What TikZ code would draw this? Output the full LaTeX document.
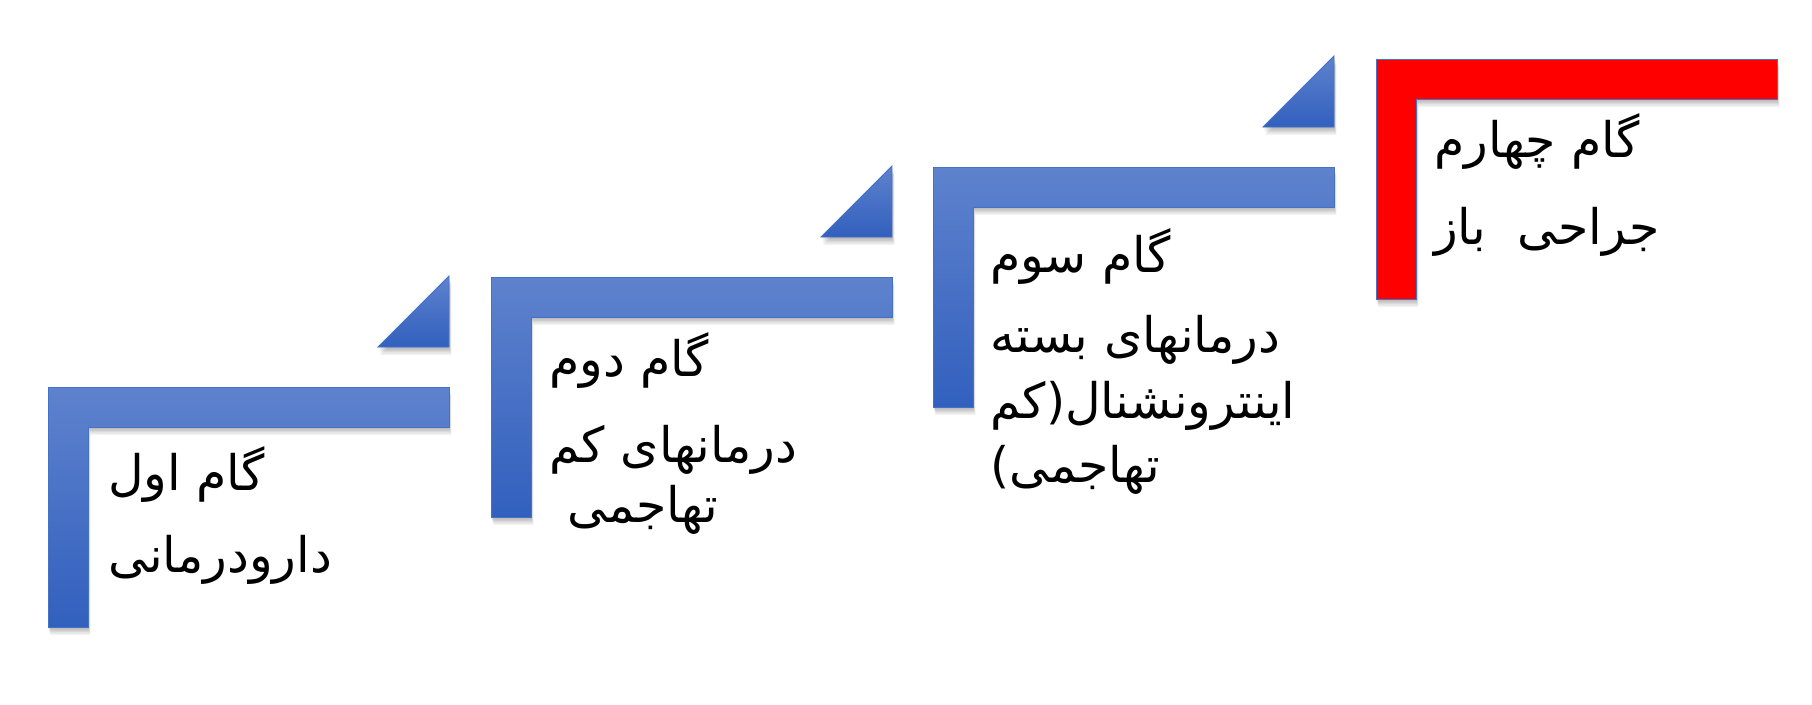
\documentclass[tikz,border=0pt]{standalone}
\usepackage{fontspec}
\usepackage{tikz}
\usetikzlibrary{calc}
\newfontfamily\arabicfont[Script=Arabic]{DejaVu Sans}
\TeXXeTstate=1
\definecolor{steplight}{RGB}{94,130,205}
\definecolor{stepdark}{RGB}{50,96,190}
\definecolor{stepedge}{RGB}{68,114,196}
\definecolor{stepred}{RGB}{255,0,0}
\newcommand{\stepwidth}{401}
\newcommand{\makeshadow}[1]{
	\foreach \d in {1,...,6}
		\fill[black, opacity=0.05] ($(#1)+(0.4*\d,1.3*\d)$) -- ++(\stepwidth,0) -- ++(0,40) -- ++(40-\stepwidth,0) -- ++(0,200) -- ++(-40,0) -- cycle;
}
\newcommand{\makestep}[2]{
	\begin{scope}
	\makeshadow{#1}
	\path[#2] (#1) -- ++(\stepwidth,0) -- ++(0,40) -- ++(40-\stepwidth,0) -- ++(0,200) -- ++(-40,0) -- cycle;
	\end{scope}
}
\newcommand{\maketriangle}[1]{
	\begin{scope}
	\foreach \d in {1,...,6}
		\fill[black, opacity=0.05] ($(#1)+(\stepwidth+0.4*\d,-40+1.3*\d)$) -- ++(-71,0) -- ++(71,-71) -- cycle;
	\path[bluestep] ($(#1)+(\stepwidth,-40)$) -- ++(-71,0) -- ++(71,-71) -- cycle;
	\end{scope}
}
\tikzset{
	bluestep/.style={top color=steplight, bottom color=stepdark, draw=stepedge, line width=0.8pt},
	redstep/.style={fill=stepred, draw=stepedge, line width=1pt},
	steptext/.style={anchor=base west, inner sep=0pt, font=\arabicfont\fontsize{49}{58}\selectfont}
}

\begin{document}
\begin{tikzpicture}[x=1pt,y=-1pt]
	\fill[white] (0,0) rectangle (1812,704);
	\useasboundingbox (0,0) rectangle (1812,704);

	\coordinate (S1) at (48,387);
	\coordinate (S2) at (491,277);
	\coordinate (S3) at (933,167);
	\coordinate (S4) at (1376,59);

	\makestep{S1}{bluestep}
	\makestep{S2}{bluestep}
	\makestep{S3}{bluestep}
	\makestep{S4}{redstep}
	\maketriangle{S1}
	\maketriangle{S2}
	\maketriangle{S3}

	% step texts
	\node[steptext] (t1a) at (108,490) {\beginR گام اول\endR};
	\node[steptext] (t1b) at (108,572) {\beginR دارودرمانی\endR};
	\node[steptext] (t2a) at (549,376) {\beginR گام دوم\endR};
	\node[steptext] (t2b) at (549,462) {\beginR درمانهای کم\endR};
	\node[steptext] (t2c) at (567,522) {\beginR تهاجمی\endR};
	\node[steptext] (t3a) at (990,272) {\beginR گام سوم\endR};
	\node[steptext] (t3b) at (990,352) {\beginR درمانهای بسته\endR};
	\node[steptext] (t3c) at (990,418) {\beginR اینترونشنال(کم\endR};
	\node[steptext] (t3d) at (990,482) {\beginR تهاجمی)\endR};
	\node[steptext] (t4a) at (1434,157) {\beginR گام چهارم\endR};
	\node[steptext] (t4b) at (1434,244) {\beginR جراحی~~باز\endR};
\end{tikzpicture}
\end{document}
